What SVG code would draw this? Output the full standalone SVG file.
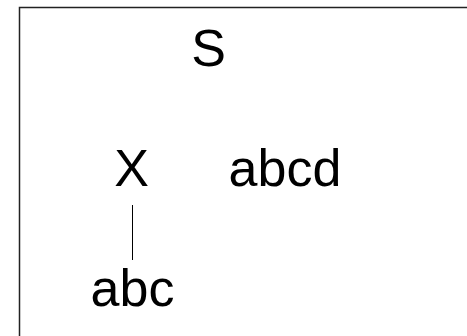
<svg xmlns="http://www.w3.org/2000/svg" width="467" height="336" viewBox="0 0 467 336">
<style>
.t{font-family:"Liberation Sans",Arial,sans-serif;font-size:52px;fill:#000;text-anchor:middle}
.e{stroke:#000;stroke-width:1;fill:none}
</style>
<rect x="0" y="0" width="467" height="336" fill="#fff"/>
<rect x="19.5" y="7.5" width="460" height="340" fill="none" stroke="#222" stroke-width="1.5"/>
<g id="edges">
<line class="e" x1="132.5" y1="205" x2="132.5" y2="260"/>
</g>
<g id="node-S"><text class="t" x="208.5" y="66">S</text></g>
<g id="node-X"><text class="t" x="131.5" y="186">X</text></g>
<g id="node-abcd"><text class="t" x="285" y="186">abcd</text></g>
<g id="node-abc"><text class="t" x="132.5" y="306">abc</text></g>
</svg>
